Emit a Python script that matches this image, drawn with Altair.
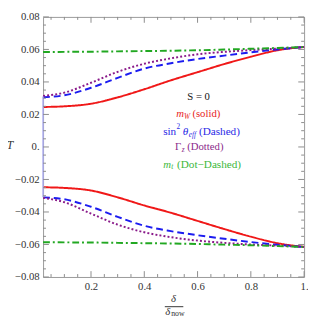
import altair as alt
import pandas as pd

# ---- data ----
x_vals = [0.02, 0.1, 0.2, 0.3, 0.4, 0.5, 0.6, 0.7, 0.8, 0.9, 1.0]

mw_up = [0.0246, 0.0250, 0.0266, 0.0305, 0.0355, 0.0410, 0.0460, 0.0510, 0.0555, 0.0595, 0.0615]
sin_up = [0.0306, 0.0318, 0.0364, 0.0425, 0.0482, 0.0515, 0.0541, 0.0562, 0.0582, 0.0600, 0.0615]
gz_up = [0.0314, 0.0334, 0.0395, 0.0462, 0.0512, 0.0545, 0.0570, 0.0585, 0.0596, 0.0605, 0.0615]
mt_up = [0.0584, 0.0585, 0.0586, 0.0588, 0.0590, 0.0592, 0.0595, 0.0599, 0.0604, 0.0609, 0.0615]

mw_dn = [-0.0248, -0.0252, -0.0268, -0.0310, -0.0360, -0.0405, -0.0455, -0.0505, -0.0552, -0.0592, -0.0615]
sin_dn = [-0.0310, -0.0322, -0.0368, -0.0430, -0.0485, -0.0518, -0.0543, -0.0565, -0.0585, -0.0602, -0.0615]
gz_dn = [-0.0313, -0.0340, -0.0410, -0.0478, -0.0525, -0.0555, -0.0576, -0.0590, -0.0600, -0.0607, -0.0615]
mt_dn = [-0.0586, -0.0587, -0.0588, -0.0590, -0.0592, -0.0594, -0.0597, -0.0601, -0.0605, -0.0610, -0.0615]

series_names = ["mW", "sin", "Gz", "mt"]
series_colors = ["#f01818", "#1c1cf0", "#8a1a8a", "#22a822"]
series_dash = [[1, 0], [7, 4], [2, 2.2], [7, 3, 2, 3]]

y_major = [-0.08, -0.06, -0.04, -0.02, 0.0, 0.02, 0.04, 0.06, 0.08]
y_minor = [-0.075, -0.07, -0.065, -0.055, -0.05, -0.045, -0.035, -0.03, -0.025,
           -0.015, -0.01, -0.005, 0.005, 0.01, 0.015, 0.025, 0.03, 0.035,
           0.045, 0.05, 0.055, 0.065, 0.07, 0.075]
x_major = [0.2, 0.4, 0.6, 0.8, 1.0]
x_minor = [0.05, 0.1, 0.15, 0.25, 0.3, 0.35, 0.45, 0.5, 0.55, 0.65, 0.7, 0.75,
           0.85, 0.9, 0.95]

W, H = 268, 267

rows = []
for name, up, dn in [("mW", mw_up, mw_dn), ("sin", sin_up, sin_dn),
                     ("Gz", gz_up, gz_dn), ("mt", mt_up, mt_dn)]:
    for xv, yv in zip(x_vals, up):
        rows.append({"x": xv, "y": yv, "s": name, "k": name + "_u"})
    for xv, yv in zip(x_vals, dn):
        rows.append({"x": xv, "y": yv, "s": name, "k": name + "_d"})
df = pd.DataFrame(rows)

xs = alt.Scale(domain=[0.02, 1.0], nice=False, zero=False)
ys = alt.Scale(domain=[-0.08, 0.08], nice=False, zero=False)

x_axis = alt.Axis(values=x_major, title=None, ticks=False, domain=False, grid=False,
                  labelOverlap=False, labelFlush=False,
                  labelExpr="datum.value == 1 ? '1.' : format(datum.value, '.1f')",
                  labelPadding=4)
y_axis = alt.Axis(values=y_major, title=None, ticks=False, domain=False, grid=False,
                  labelOverlap=False, labelFlush=False,
                  labelExpr="datum.value == 0 ? '0.' : (datum.value < 0 ? '\u2212' : '') + format(abs(datum.value), '.2f')",
                  labelPadding=4)

def X(field):
    return alt.X(field, scale=xs, axis=x_axis, title=None)

def Y(field):
    return alt.Y(field, scale=ys, axis=y_axis, title=None)

lines = alt.Chart(df).mark_line(strokeWidth=2, interpolate="monotone").encode(
    x=X("x:Q"),
    y=Y("y:Q"),
    color=alt.Color("s:N", scale=alt.Scale(domain=series_names, range=series_colors), legend=None),
    strokeDash=alt.StrokeDash("s:N", scale=alt.Scale(domain=series_names, range=series_dash), legend=None),
    detail="k:N",
)

vrule = alt.Chart(pd.DataFrame({"x": [0.02], "y": [-0.031], "y2": [0.031]})).mark_rule(
    color="#a8a8ee", strokeWidth=1.5).encode(
    x=X("x:Q"), y=Y("y:Q"), y2="y2:Q")

tick_col = "#8c8c8c"
def yticks(vals, length):
    d = pd.DataFrame({"v": vals})
    left = alt.Chart(d).mark_rule(color=tick_col, strokeWidth=1).encode(
        y=Y("v:Q"), x=alt.value(0), x2=alt.value(length))
    right = alt.Chart(d).mark_rule(color=tick_col, strokeWidth=1).encode(
        y=Y("v:Q"), x=alt.value(W - length), x2=alt.value(W))
    return [left, right]

def xticks(vals, length):
    d = pd.DataFrame({"v": vals})
    top = alt.Chart(d).mark_rule(color=tick_col, strokeWidth=1).encode(
        x=X("v:Q"), y=alt.value(0), y2=alt.value(length))
    bot = alt.Chart(d).mark_rule(color=tick_col, strokeWidth=1).encode(
        x=X("v:Q"), y=alt.value(H - length), y2=alt.value(H))
    return [top, bot]

ticks = yticks(y_major, 6) + yticks(y_minor, 3) + xticks(x_major, 6) + xticks(x_minor, 3)

one = pd.DataFrame({"a": [0]})
FONT = "Liberation Serif"

def txt(t, x, y, color, size=11, italic=False, align="left"):
    kw = dict(text=t, font=FONT, fontSize=size, color=color, align=align, baseline="middle")
    if italic:
        kw["fontStyle"] = "italic"
    return alt.Chart(one).mark_text(**kw).encode(x=alt.value(x), y=alt.value(y))

RED, BLUE, PURP, GRN = "#e81c1c", "#2a2ae6", "#8b2a8b", "#3cb83c"
texts = [
    txt("S = 0", 159.7, 82.3, "#111111", align="center"),
    txt("m", 136.7, 100, RED, italic=True),
    txt("W", 144.8, 102.8, RED, size=7.5, italic=True),
    txt("(solid)", 182, 100, RED, align="right"),
    txt("sin", 123.3, 118, BLUE, size=11.5),
    txt("2", 137, 113.5, BLUE, size=7.5),
    txt("\u03b8", 143.5, 118, BLUE, size=11.5, italic=True),
    txt("eff", 149.6, 120.8, BLUE, size=7.5, italic=True),
    txt("(Dashed)", 160, 118, BLUE, size=11.5),
    txt("\u0393", 135.5, 134, PURP),
    txt("z", 142.3, 136.8, PURP, size=7.5, italic=True),
    txt("(Dotted)", 148, 134, PURP),
    txt("m", 123.3, 151.7, GRN, italic=True),
    txt("t", 131.5, 154.5, GRN, size=7.5, italic=True),
    txt("(Dot\u2212Dashed)", 137.5, 151.7, GRN, size=11.5),
    txt("T", -34, 132, "#333333", size=12, italic=True, align="center"),
    txt("\u03b4", 134, 289.5, "#333333", size=11, italic=True, align="center"),
    txt("\u03b4", 125.5, 303.5, "#333333", size=11, italic=True),
    txt("now", 131.5, 305.5, "#333333", size=8),
]

frac = alt.Chart(one).mark_rule(color="#333333", strokeWidth=1).encode(
    x=alt.value(125), x2=alt.value(144), y=alt.value(297.5))

chart = alt.layer(lines, vrule, *ticks, *texts, frac).properties(
    width=W, height=H,
    autosize=alt.AutoSizeParams(type="none"),
    padding={"left": 36, "top": 5, "right": 4, "bottom": 40},
).configure_view(stroke="#999999", strokeWidth=1).configure_axis(
    labelFont=FONT, labelFontSize=11, labelColor="#333333"
)

chart.save("out.html", embed_options={"renderer": "svg", "actions": False})
